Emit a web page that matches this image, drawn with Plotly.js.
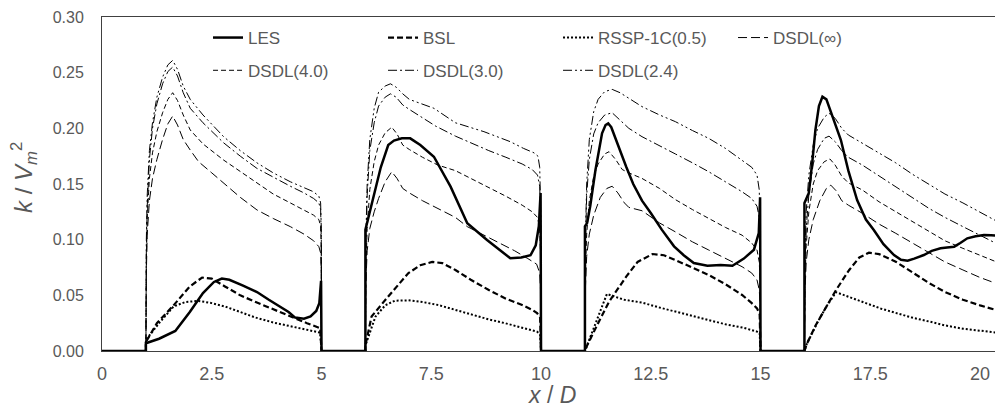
<!DOCTYPE html>
<html>
<head>
<meta charset="utf-8">
<script src="https://cdn.plot.ly/plotly-3.0.1.min.js"></script>
<style>
html,body{margin:0;padding:0;overflow:hidden;background:#fff;}
#chart{width:1002px;height:410px;}
</style>
</head>
<body>
<div id="chart"></div>
<script>
// Series names (legend)
const seriesNames = ["LES","BSL","RSSP-1C(0.5)","DSDL(\u221e)","DSDL(4.0)","DSDL(3.0)","DSDL(2.4)"];
const xTicks = [0,2.5,5,7.5,10,12.5,15,17.5,20];
const xTickLabels = ["0","2.5","5","7.5","10","12.5","15","17.5","20"];
const yTicks = [0,0.05,0.10,0.15,0.20,0.25,0.30];
const yTickLabels = ["0.00","0.05","0.10","0.15","0.20","0.25","0.30"];

// [x/D, k/Vm^2]
const LES = [[0,0],[1,0],[1,0.007],[1.3,0.011],[1.67,0.018],[2.0,0.035],[2.3,0.052],[2.55,0.062],[2.73,0.065],[2.9,0.064],[3.2,0.059],[3.53,0.053],[3.8,0.046],[4.06,0.04],[4.25,0.035],[4.4,0.03],[4.6,0.029],[4.75,0.031],[4.88,0.036],[4.95,0.043],[4.99,0.063],[5,0],
[6,0],[6,0.109],[6.1,0.125],[6.23,0.145],[6.35,0.165],[6.52,0.185],[6.65,0.189],[6.83,0.191],[7.02,0.191],[7.25,0.185],[7.56,0.1745],[7.94,0.1476],[8.32,0.1147],[8.77,0.0997],[9.05,0.091],[9.3,0.0833],[9.55,0.084],[9.76,0.086],[9.88,0.095],[9.95,0.112],[9.99,0.142],[10,0],
[11,0],[11,0.112],[11.05,0.115],[11.12,0.13],[11.24,0.1626],[11.39,0.1955],[11.47,0.203],[11.53,0.2045],[11.6,0.201],[11.7,0.19],[11.8,0.18],[11.94,0.1655],[12.1,0.15],[12.3,0.135],[12.5,0.124],[12.75,0.109],[13.03,0.094],[13.25,0.086],[13.48,0.079],[13.79,0.0765],[14.09,0.0772],[14.36,0.0765],[14.62,0.083],[14.85,0.091],[14.96,0.106],[14.99,0.138],[15,0],
[16,0],[16,0.133],[16.1,0.142],[16.18,0.17],[16.25,0.1985],[16.33,0.22],[16.41,0.2284],[16.5,0.226],[16.6,0.215],[16.7,0.203],[16.83,0.1895],[17.0,0.162],[17.2,0.1356],[17.4,0.118],[17.58,0.1087],[17.8,0.096],[18.04,0.0862],[18.2,0.082],[18.35,0.0811],[18.5,0.083],[18.72,0.0862],[18.9,0.09],[19.1,0.0922],[19.25,0.093],[19.41,0.0937],[19.55,0.097],[19.71,0.1012],[19.9,0.103],[20.09,0.1042],[20.25,0.104],[20.5,0.1033]];

const BSL = [[0,0],[1,0],[1,0.008],[1.25,0.025],[1.63,0.041],[2.0,0.058],[2.28,0.066],[2.5,0.065],[2.8,0.058],[3.15,0.05],[3.5,0.044],[3.91,0.037],[4.3,0.031],[4.67,0.025],[4.97,0.0205],[5,0],
[6,0],[6,0.005],[6.14,0.031],[6.52,0.049],[6.98,0.07],[7.25,0.077],[7.52,0.08],[7.75,0.079],[8.05,0.0728],[8.4,0.064],[8.81,0.0548],[9.2,0.047],[9.57,0.0413],[9.8,0.037],[9.91,0.034],[9.98,0.03],[10,0],
[11,0],[11.05,0.005],[11.3,0.025],[11.55,0.0443],[11.94,0.0668],[12.2,0.08],[12.54,0.0871],[12.8,0.086],[13.06,0.0817],[13.4,0.076],[13.82,0.0683],[14.2,0.06],[14.58,0.0503],[14.8,0.043],[14.92,0.0383],[14.98,0.033],[15,0],
[16,0],[16.05,0.006],[16.26,0.0234],[16.5,0.04],[16.72,0.0548],[17.02,0.0728],[17.25,0.084],[17.47,0.0883],[17.7,0.087],[18.08,0.0802],[18.45,0.071],[18.84,0.061],[19.2,0.053],[19.61,0.046],[20.0,0.041],[20.36,0.0368],[20.5,0.036]];

const RSSP = [[0,0],[1,0],[1,0.01],[1.3,0.025],[1.63,0.04],[1.9,0.044],[2.2,0.045],[2.5,0.043],[2.8,0.04],[3.15,0.035],[3.5,0.03],[3.91,0.0255],[4.3,0.022],[4.67,0.019],[4.97,0.0165],[5,0],
[6,0],[6,0.005],[6.23,0.031],[6.45,0.041],[6.67,0.0452],[6.98,0.0455],[7.3,0.044],[7.66,0.0413],[8.05,0.037],[8.42,0.0323],[8.8,0.0285],[9.19,0.0249],[9.57,0.021],[9.91,0.0174],[9.98,0.015],[10,0],
[11,0],[11.05,0.005],[11.25,0.025],[11.5,0.0512],[11.9,0.046],[12.3,0.0435],[12.7,0.039],[13.06,0.0353],[13.45,0.0315],[13.82,0.0278],[14.2,0.024],[14.6,0.021],[14.92,0.0174],[14.98,0.016],[15,0],
[16,0],[16.05,0.006],[16.3,0.026],[16.5,0.04],[16.72,0.0528],[17.0,0.049],[17.4,0.043],[17.75,0.038],[18.08,0.034],[18.45,0.03],[18.84,0.0265],[19.2,0.023],[19.61,0.02],[20.0,0.018],[20.36,0.0165],[20.5,0.016]];

const DSDL_INF = [[0,0],[1,0],[1.01,0.07],[1.03,0.105],[1.08,0.135],[1.15,0.155],[1.25,0.172],[1.38,0.19],[1.5,0.204],[1.61,0.211],[1.72,0.203],[1.85,0.19],[2.01,0.1805],[2.2,0.17],[2.5,0.16],[2.77,0.151],[3.15,0.138],[3.53,0.1267],[3.9,0.119],[4.29,0.1117],[4.6,0.105],[4.82,0.099],[4.94,0.0937],[4.98,0.088],[4.995,0.07],[5,0],
[6,0],[6.01,0.06],[6.04,0.09],[6.1,0.11],[6.2,0.125],[6.3,0.137],[6.45,0.152],[6.6,0.161],[6.72,0.155],[6.85,0.146],[7.0,0.142],[7.3,0.135],[7.58,0.1296],[8.05,0.12],[8.32,0.1117],[8.7,0.104],[9.08,0.0967],[9.4,0.09],[9.7,0.083],[9.9,0.078],[9.97,0.07],[9.995,0.05],[10,0],
[11,0],[11.01,0.055],[11.04,0.085],[11.1,0.105],[11.2,0.122],[11.35,0.138],[11.5,0.146],[11.62,0.148],[11.75,0.142],[11.9,0.133],[12.0,0.129],[12.3,0.126],[12.7,0.115],[13.06,0.107],[13.45,0.098],[13.82,0.0907],[14.2,0.083],[14.58,0.0757],[14.8,0.07],[14.92,0.0638],[14.97,0.055],[14.995,0.04],[15,0],
[16,0],[16.01,0.05],[16.04,0.08],[16.1,0.1],[16.2,0.118],[16.35,0.135],[16.5,0.146],[16.6,0.149],[16.72,0.144],[16.85,0.135],[17.0,0.131],[17.32,0.1237],[17.7,0.114],[18.08,0.1057],[18.45,0.097],[18.84,0.0877],[19.2,0.08],[19.61,0.0728],[20.0,0.066],[20.36,0.0608],[20.5,0.059]];

const DSDL_40 = [[0,0],[1,0],[1.01,0.08],[1.03,0.12],[1.08,0.155],[1.15,0.178],[1.25,0.197],[1.38,0.214],[1.5,0.226],[1.61,0.232],[1.72,0.225],[1.85,0.212],[2.01,0.1985],[2.3,0.186],[2.77,0.1715],[3.15,0.161],[3.53,0.151],[3.9,0.141],[4.29,0.133],[4.6,0.127],[4.82,0.122],[4.94,0.118],[4.98,0.112],[4.995,0.09],[5,0],
[6,0],[6.01,0.07],[6.04,0.11],[6.1,0.145],[6.2,0.17],[6.3,0.185],[6.45,0.196],[6.6,0.201],[6.72,0.195],[6.85,0.185],[7.0,0.181],[7.3,0.174],[7.65,0.167],[8.05,0.162],[8.4,0.155],[8.81,0.147],[9.2,0.139],[9.57,0.131],[9.8,0.125],[9.92,0.12],[9.97,0.11],[9.995,0.08],[10,0],
[11,0],[11.01,0.07],[11.04,0.105],[11.1,0.135],[11.2,0.157],[11.3,0.168],[11.45,0.177],[11.55,0.179],[11.7,0.172],[11.85,0.163],[12.0,0.16],[12.3,0.155],[12.7,0.146],[13.06,0.136],[13.45,0.127],[13.82,0.119],[14.2,0.111],[14.58,0.104],[14.8,0.097],[14.92,0.0907],[14.97,0.08],[14.995,0.06],[15,0],
[16,0],[16.01,0.06],[16.04,0.095],[16.1,0.125],[16.2,0.15],[16.3,0.162],[16.45,0.17],[16.58,0.1725],[16.7,0.167],[16.85,0.157],[17.0,0.151],[17.32,0.1446],[17.7,0.134],[18.08,0.1251],[18.45,0.116],[18.84,0.1072],[19.2,0.099],[19.61,0.0922],[20.0,0.086],[20.36,0.0802],[20.5,0.078]];

const DSDL_30 = [[0,0],[1,0],[1.01,0.09],[1.03,0.13],[1.08,0.172],[1.15,0.2],[1.25,0.222],[1.38,0.24],[1.5,0.251],[1.61,0.255],[1.72,0.247],[1.85,0.232],[2.01,0.218],[2.3,0.205],[2.77,0.187],[3.15,0.175],[3.53,0.164],[3.9,0.156],[4.29,0.148],[4.6,0.142],[4.82,0.137],[4.94,0.133],[4.98,0.127],[4.995,0.1],[5,0],
[6,0],[6.01,0.09],[6.04,0.14],[6.1,0.18],[6.2,0.205],[6.3,0.22],[6.45,0.228],[6.57,0.231],[6.7,0.228],[6.85,0.221],[7.0,0.217],[7.29,0.21],[7.6,0.202],[8.05,0.193],[8.5,0.185],[8.81,0.18],[9.2,0.174],[9.57,0.168],[9.8,0.163],[9.92,0.158],[9.97,0.148],[9.995,0.11],[10,0],
[11,0],[11.01,0.09],[11.04,0.14],[11.1,0.172],[11.2,0.195],[11.3,0.205],[11.45,0.212],[11.62,0.214],[11.8,0.207],[12.0,0.2],[12.3,0.1925],[12.7,0.184],[13.06,0.177],[13.45,0.169],[13.82,0.161],[14.2,0.152],[14.58,0.143],[14.8,0.137],[14.92,0.13],[14.97,0.12],[14.995,0.09],[15,0],
[16,0],[16.01,0.07],[16.04,0.11],[16.1,0.14],[16.2,0.168],[16.3,0.181],[16.45,0.191],[16.56,0.193],[16.7,0.188],[16.85,0.18],[17.0,0.174],[17.32,0.167],[17.7,0.157],[18.08,0.1476],[18.45,0.138],[18.84,0.128],[19.2,0.12],[19.61,0.1117],[20.0,0.104],[20.36,0.0967],[20.5,0.094]];

const DSDL_24 = [[0,0],[1,0],[1.01,0.1],[1.03,0.14],[1.08,0.18],[1.15,0.205],[1.25,0.228],[1.38,0.246],[1.5,0.257],[1.61,0.261],[1.72,0.253],[1.85,0.238],[2.01,0.226],[2.3,0.212],[2.77,0.1925],[3.15,0.18],[3.53,0.169],[3.9,0.16],[4.29,0.152],[4.6,0.147],[4.82,0.143],[4.94,0.139],[4.98,0.133],[4.995,0.11],[5,0],
[6,0],[6.01,0.1],[6.04,0.15],[6.1,0.19],[6.2,0.218],[6.3,0.2325],[6.45,0.238],[6.57,0.24],[6.7,0.237],[6.85,0.231],[7.0,0.226],[7.29,0.222],[7.56,0.218],[8.05,0.205],[8.7,0.197],[9.3,0.188],[9.6,0.182],[9.84,0.178],[9.93,0.175],[9.97,0.165],[9.995,0.12],[10,0],
[11,0],[11.01,0.1],[11.04,0.15],[11.1,0.19],[11.2,0.215],[11.3,0.226],[11.45,0.233],[11.62,0.235],[11.8,0.232],[12.0,0.227],[12.3,0.2195],[12.7,0.212],[13.06,0.206],[13.45,0.198],[13.82,0.191],[14.2,0.182],[14.58,0.1716],[14.8,0.165],[14.92,0.158],[14.97,0.145],[14.995,0.11],[15,0],
[16,0],[16.01,0.08],[16.04,0.125],[16.1,0.158],[16.2,0.185],[16.3,0.2],[16.45,0.21],[16.56,0.2135],[16.7,0.209],[16.85,0.2],[17.0,0.194],[17.32,0.1866],[17.7,0.178],[18.08,0.169],[18.45,0.159],[18.84,0.15],[19.2,0.141],[19.61,0.133],[20.0,0.125],[20.36,0.117],[20.5,0.115]];

const FONT = "Liberation Sans, Arial, sans-serif";
const GRAY = "#595959";

function mk(pts, name, width, dash, legend, rank) {
  return {
    type: "scatter", mode: "lines", name: name,
    x: pts.map(p => p[0]), y: pts.map(p => p[1]),
    line: {color: "#000000", width: width, dash: dash},
    legend: legend, legendrank: rank, hoverinfo: "skip"
  };
}

const traces = [
  mk(DSDL_24, seriesNames[6], 1, "9px,3px,2px,3px,2px,3px", "legend2", 3),
  mk(DSDL_30, seriesNames[5], 1, "9px,3px,2px,3px", "legend2", 2),
  mk(DSDL_40, seriesNames[4], 1, "5px,3px", "legend2", 1),
  mk(DSDL_INF, seriesNames[3], 1, "9px,4px", "legend", 4),
  mk(RSSP, seriesNames[2], 2, "2px,2px", "legend", 3),
  mk(BSL, seriesNames[1], 2.2, "6px,3px", "legend", 2),
  mk(LES, seriesNames[0], 2.5, "solid", "legend", 1)
];

const legendCommon = {
  orientation: "h", xanchor: "left", yanchor: "top",
  font: {family: FONT, size: 17, color: GRAY},
  bgcolor: "rgba(0,0,0,0)", borderwidth: 0,
  entrywidth: 130, entrywidthmode: "pixels",
  traceorder: "normal", itemclick: false
};

const layout = {
  width: 1002, height: 410,
  margin: {l: 102, r: 0, t: 17, b: 59, pad: 0},
  paper_bgcolor: "#ffffff", plot_bgcolor: "#ffffff",
  showlegend: true,
  legend: Object.assign({}, legendCommon, {x: 0.1178, y: 0.991}),
  legend2: Object.assign({}, legendCommon, {x: 0.1178, y: 0.893}),
  xaxis: {
    range: [0, 20.5], tickvals: xTicks, ticktext: xTickLabels,
    showgrid: false, zeroline: false, showline: true, mirror: true,
    linecolor: "#404040", linewidth: 1, ticks: "",
    ticklabelstandoff: 6,
    tickfont: {family: FONT, size: 18, color: GRAY}
  },
  yaxis: {
    range: [0, 0.30], tickvals: yTicks, ticktext: yTickLabels,
    showgrid: false, zeroline: false, showline: true, mirror: false,
    linecolor: "#404040", linewidth: 1, ticks: "",
    ticklabelstandoff: 14,
    tickfont: {family: FONT, size: 16, color: GRAY}
  },
  annotations: [
    {xref: "paper", yref: "paper", x: (24 - 102) / 900, y: (351 - 178) / 334,
     text: "<i>k</i> / <i>V<sub>m</sub></i><sup>2</sup>", textangle: -90,
     showarrow: false, xanchor: "center", yanchor: "middle",
     font: {family: FONT, size: 24, color: GRAY}},
    {xref: "paper", yref: "paper", x: 0.5, y: (351 - 395) / 334,
     text: "<i>x</i> / <i>D</i>", showarrow: false, xanchor: "center", yanchor: "middle",
     font: {family: FONT, size: 23, color: GRAY}}
  ]
};

Plotly.newPlot("chart", traces, layout, {staticPlot: true, displayModeBar: false});
</script>
</body>
</html>
